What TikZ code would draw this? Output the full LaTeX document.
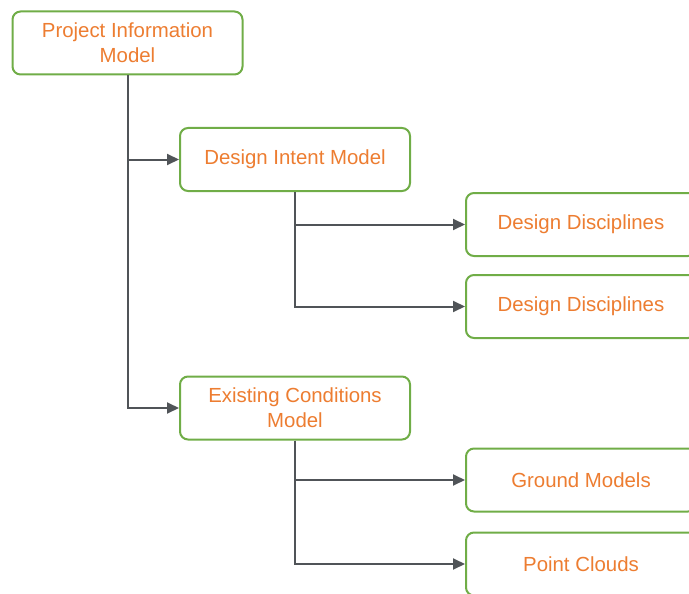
\documentclass[tikz,border=0pt]{standalone}
\usepackage{fontspec}
\setmainfont{Liberation Sans}
\usepackage{xcolor}
\usetikzlibrary{arrows.meta}
\definecolor{boxgreen}{RGB}{112,173,71}
\definecolor{txtorange}{RGB}{237,125,49}
\definecolor{linegray}{RGB}{80,84,88}

\begin{document}
\begin{tikzpicture}[x=1pt, y=-1pt, font=\fontsize{20.4}{25}\selectfont]
	\tikzstyle{model}=[draw=boxgreen, line width=2pt, rounded corners=8pt, fill=white, text=txtorange, minimum width=230pt, minimum height=63pt, align=center, inner sep=0pt]
	\tikzstyle{link}=[draw=linegray, line width=2pt, -{Triangle[length=12pt,width=11pt]}]
	\useasboundingbox (0,0) rectangle (689,594);
	
	\node[model] (pim) at (127.5,43) {Project Information\\Model};
	\node[model] (dim) at (295,159.5) {Design Intent Model};
	\node[model] (ecm) at (295,408) {Existing Conditions\\Model};
	\node[model] (dd1) at (581,224.5) {Design Disciplines};
	\node[model] (dd2) at (581,306.5) {Design Disciplines};
	\node[model] (gm) at (581,480) {Ground Models};
	\node[model] (pc) at (581,564) {Point Clouds};
	
	\draw[link] (pim.south) |- (dim.west);
	\draw[link] (pim.south) |- (ecm.west);
	\draw[link] (dim.south) |- (dd1.west);
	\draw[link] (dim.south) |- (dd2.west);
	\draw[link] (ecm.south) |- (gm.west);
	\draw[link] (ecm.south) |- (pc.west);
\end{tikzpicture}
\end{document}
